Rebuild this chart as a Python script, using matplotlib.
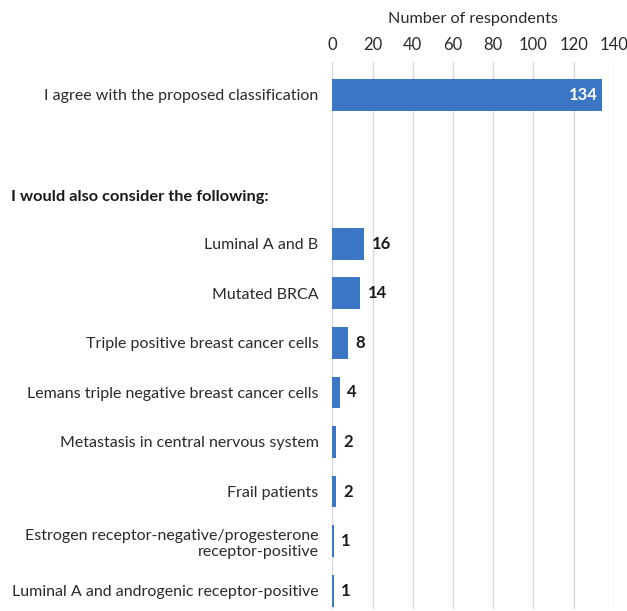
import matplotlib.pyplot as plt

# Survey answers
top_label = "I agree with the proposed classification"
top_value = 134
heading = "I would also consider the following:"
labels = [
    "Luminal A and B",
    "Mutated BRCA",
    "Triple positive breast cancer cells",
    "Lemans triple negative breast cancer cells",
    "Metastasis in central nervous system",
    "Frail patients",
    "Estrogen receptor-negative/progesterone\nreceptor-positive",
    "Luminal A and androgenic receptor-positive",
]
values = [16, 14, 8, 4, 2, 2, 1, 1]
x_ticks = [0, 20, 40, 60, 80, 100, 120, 140]

plt.rcParams['font.family'] = ['Lato', 'DejaVu Sans']
bar_color = '#3A76C4'

fig = plt.figure(figsize=(6.27, 6.11), dpi=100)
ax = fig.add_axes([0.53, 0.004, 0.449, 0.895])

# positions: first bar, gap for heading, then the rest
pos = [0] + [3 + i for i in range(len(values))]
all_vals = [top_value] + values
all_labels = [top_label] + labels

ax.barh(pos, all_vals, height=0.64, color=bar_color, zorder=3)

for p, v in zip(pos, all_vals):
    if v > 100:
        ax.text(v - 2, p, str(v), color='white', fontweight='bold',
                fontsize=12, ha='right', va='center', zorder=4)
    else:
        ax.text(v + 3.5, p, str(v), color='#1a1a1a', fontweight='bold',
                fontsize=12, ha='left', va='center', zorder=4)

ax.set_yticks(pos)
ax.set_yticklabels(all_labels, fontsize=11.5, color='#2a2a2a')
ax.set_ylim(10.36, -0.67)
ax.set_xlim(0, 140)
ax.set_xticks(x_ticks)
ax.xaxis.tick_top()
ax.xaxis.set_label_position('top')
ax.set_xlabel("Number of respondents", fontsize=11.7, color='#2a2a2a', labelpad=10)
ax.tick_params(axis='x', length=0, labelsize=12, colors='#2a2a2a', pad=6)
ax.tick_params(axis='y', length=0, pad=10)
ax.grid(axis='x', color='#D9D9D9', linewidth=1, zorder=0)
for s in ax.spines.values():
    s.set_visible(False)

fig.text(0.018, 1 - 197 / 611, heading, fontsize=11.8, fontweight='bold',
         color='#1a1a1a', ha='left', va='center')

fig.savefig('out.png', dpi=100)
